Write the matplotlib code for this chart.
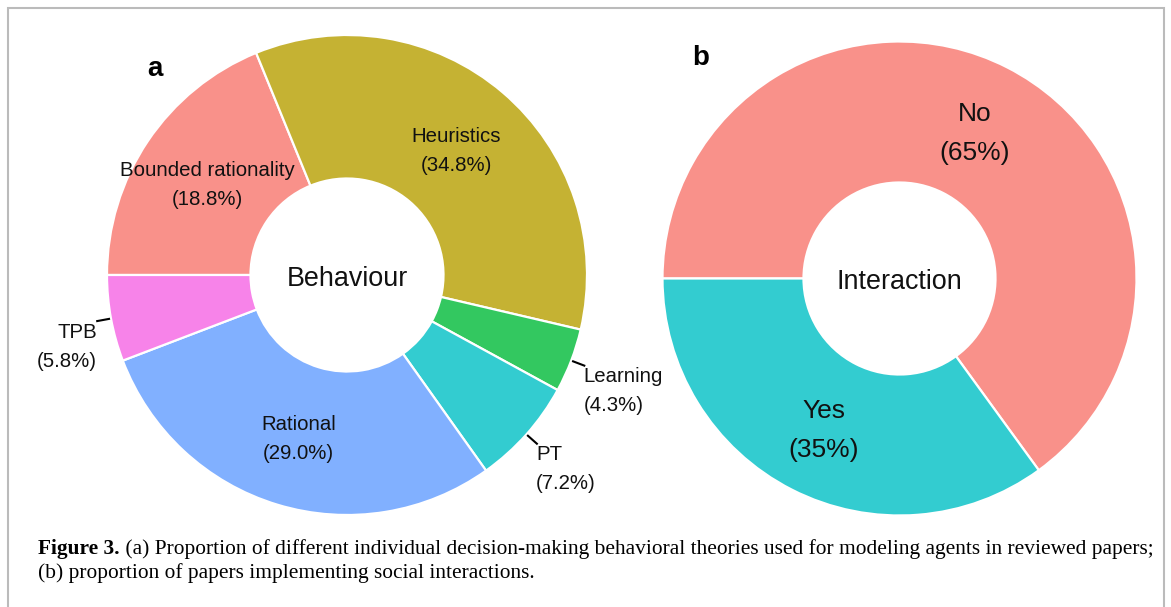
import matplotlib
matplotlib.use("Agg")
import matplotlib.pyplot as plt
import numpy as np
from matplotlib.patches import Rectangle

# data for panel a (behaviour) and panel b (interaction)
categorias_a = ["Bounded rationality", "Heuristics", "Learning", "PT", "Rational", "TPB"]
porcentajes_a = [18.8, 34.8, 4.3, 7.2, 29.0, 5.8]
colores_a = ["#F9918A", "#C5B233", "#33C860", "#33CCD0", "#81B0FF", "#F783E9"]
fuera_a = ["Learning", "PT", "TPB"]  # these labels go outside with a small leader line

categorias_b = ["No", "Yes"]
porcentajes_b = [65, 35]
colores_b = ["#F9918A", "#33CCD0"]

caption_bold = "Figure 3."
caption_1 = " (a) Proportion of different individual decision-making behavioral theories used for modeling agents in reviewed papers;"
caption_2 = "(b) proportion of papers implementing social interactions."

W, H = 1171, 607
fig = plt.figure(figsize=(W / 100, H / 100), dpi=100)
ax = fig.add_axes([0, 0, 1, 1])
plt.rcParams["font.family"] = ["Liberation Sans", "DejaVu Sans"]


def donut(valores, colores, cx, cy, r_out, r_in):
    wedges, _ = ax.pie(valores, colors=colores, startangle=180, counterclock=False,
                       radius=r_out, center=(cx, H - cy),
                       wedgeprops=dict(width=r_out - r_in, edgecolor="white", linewidth=1.6))
    return wedges


def punto(w, r):
    ang = np.deg2rad((w.theta1 + w.theta2) / 2)
    return w.center[0] + r * np.cos(ang), w.center[1] + r * np.sin(ang)


# panel a
wa = donut(porcentajes_a, colores_a, 347, 275, 240, 96.5)
for w, nombre, p in zip(wa, categorias_a, porcentajes_a):
    if nombre in fuera_a:
        x0, y0 = punto(w, 242)
        x1, y1 = punto(w, 254)
        ax.plot([x0, x1], [y0, y1], color="black", lw=1.5)
        if x1 > w.center[0]:
            ha, dx = "left", -1
        else:
            ha, dx = "right", 0
        ax.text(x1 + dx, y1 - 11, nombre, ha=ha, va="center", fontsize=14.7, color="#111111")
        ax.text(x1 + dx, y1 - 40, f"({p:.1f}%)", ha=ha, va="center", fontsize=14.7, color="#111111")
    else:
        x, y = punto(w, 168)
        y = y - 3.5
        ax.text(x, y + 14.5, nombre, ha="center", va="center", fontsize=14.7, color="#111111")
        ax.text(x, y - 14.5, f"({p:.1f}%)", ha="center", va="center", fontsize=14.7, color="#111111")
ax.text(347, H - 279, "Behaviour", ha="center", va="center", fontsize=19.4, color="#111111")
ax.text(155, H - 76, "a", ha="center", va="baseline", fontsize=20, fontweight="bold")

# panel b
wb = donut(porcentajes_b, colores_b, 899.5, 278.5, 237, 96)
for w, nombre, p in zip(wb, categorias_b, porcentajes_b):
    x, y = punto(w, 166.5)
    y = y - 3.5
    ax.text(x, y + 19.5, nombre, ha="center", va="center", fontsize=19, color="#111111")
    ax.text(x, y - 19.5, f"({p}%)", ha="center", va="center", fontsize=19, color="#111111")
ax.text(899.5, H - 282, "Interaction", ha="center", va="center", fontsize=19.4, color="#111111")
ax.text(701, H - 65, "b", ha="center", va="baseline", fontsize=20, fontweight="bold")

# frame around the figure (bottom edge is outside the picture)
ax.add_patch(Rectangle((8, -40), 1156, H - 8 + 40, fill=False, edgecolor="#BBBBBB", lw=1.5))

ax.set_xlim(0, W)
ax.set_ylim(0, H)
ax.set_aspect("equal")
ax.axis("off")

# caption, font size fitted to the width of the first line
renderer = fig.canvas.get_renderer()
fs = 12
t_b = ax.text(38, H - 554, caption_bold, fontfamily="Liberation Serif", fontweight="bold",
              fontsize=fs, va="baseline")
t_1 = ax.text(38, H - 554, caption_1, fontfamily="Liberation Serif", fontsize=fs, va="baseline")
ancho = t_b.get_window_extent(renderer).width + t_1.get_window_extent(renderer).width
fs = fs * 1110 / ancho
t_b.set_fontsize(fs)
t_1.set_fontsize(fs)
t_1.set_x(38 + t_b.get_window_extent(renderer).width)
ax.text(38, H - 578, caption_2, fontfamily="Liberation Serif", fontsize=fs, va="baseline")

fig.savefig("out.png", dpi=100, facecolor="white")
